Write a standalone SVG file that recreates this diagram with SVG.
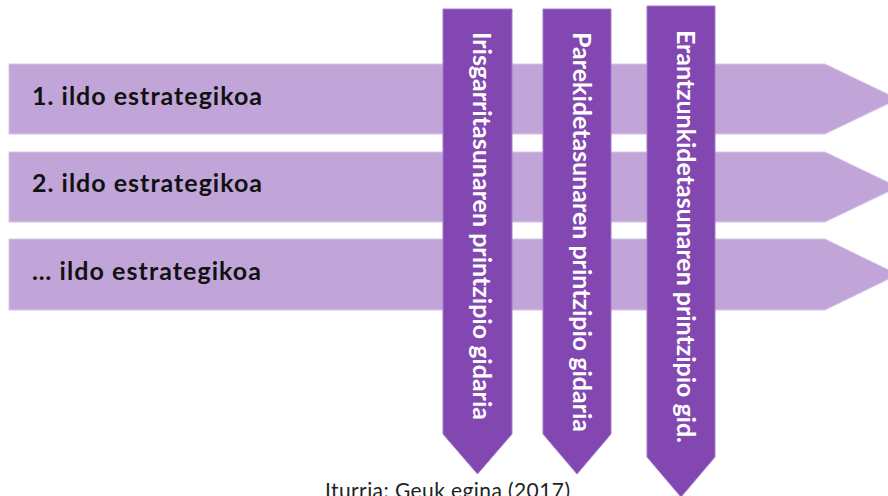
<svg xmlns="http://www.w3.org/2000/svg" width="888" height="496" viewBox="0 0 888 496">
<style>
.hbar{fill:#C1A5D9;stroke:#D6C6E6;stroke-width:1}
.vbar{fill:#8347B1;stroke:#A47BC8;stroke-width:1}
.hlabel{font-family:Lato,"Open Sans","Liberation Sans",sans-serif;font-weight:700;font-size:25px;fill:#111}
.vlabel{font-family:Lato,"Open Sans","Liberation Sans",sans-serif;font-weight:700;font-size:25px;fill:#FFFFFF}
.src{font-family:Lato,"Open Sans","Liberation Sans",sans-serif;font-size:21px;fill:#222}
</style>
<rect width="888" height="496" fill="#FFFFFF"/>
<g id="line1">
<path class="hbar" d="M9,64 H825 L898,99 L825,134 H9 Z"/>
<text class="hlabel" x="32" y="105" textLength="230">1. ildo estrategikoa</text>
</g>
<g id="line2">
<path class="hbar" d="M9,152 H825 L898,187 L825,222 H9 Z"/>
<text class="hlabel" x="32" y="192" textLength="230">2. ildo estrategikoa</text>
</g>
<g id="line3">
<path class="hbar" d="M9,239 H825 L898,274.5 L825,310 H9 Z"/>
<text class="hlabel" x="32" y="280" textLength="229">… ildo estrategikoa</text>
</g>
<g id="connectors"></g>
<g id="principle1">
<path class="vbar" d="M443,9 H512 V434 L477.5,474 L443,434 Z"/>
<text class="vlabel" transform="translate(473,32) rotate(90)" x="0" y="0" textLength="388">Irisgarritasunaren printzipio gidaria</text>
</g>
<g id="principle2">
<path class="vbar" d="M543,9 H611 V434 L577,474 L543,434 Z"/>
<text class="vlabel" transform="translate(573,32) rotate(90)" x="0" y="0" textLength="400">Parekidetasunaren printzipio gidaria</text>
</g>
<g id="principle3">
<path class="vbar" d="M647,6 H715 V457 L681,497 L647,457 Z"/>
<text class="vlabel" transform="translate(677,30) rotate(90)" x="0" y="0" textLength="413">Erantzunkidetasunaren printzipio gid.</text>
</g>
<g id="source">
<text class="src" x="325" y="498" textLength="245">Iturria: Geuk egina (2017)</text>
</g>
</svg>
